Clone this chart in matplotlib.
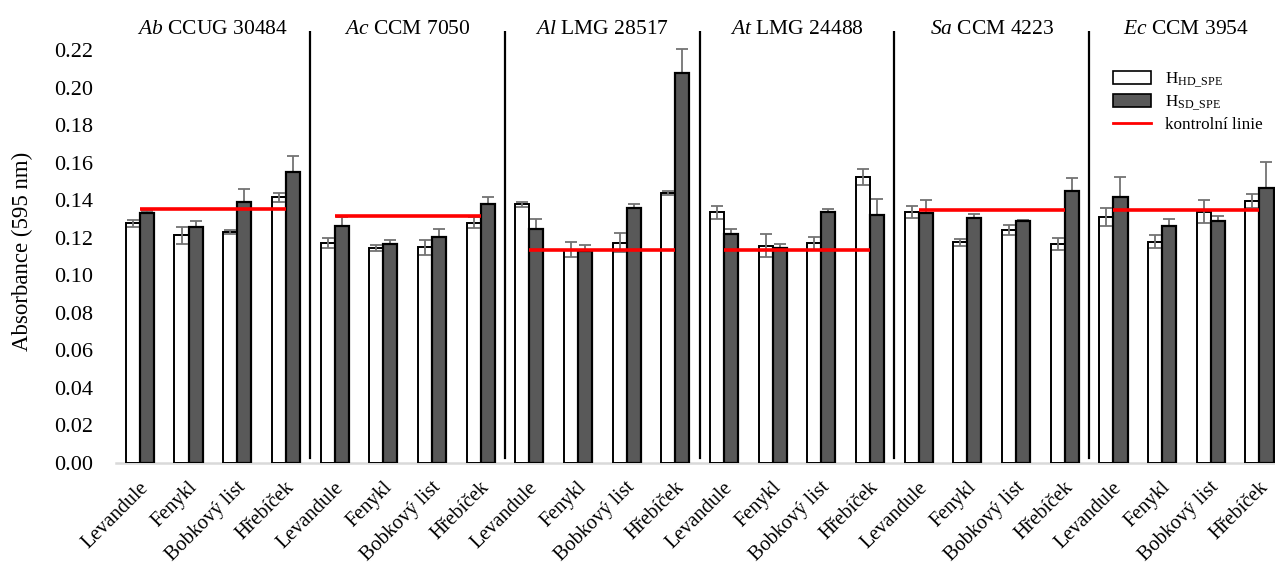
import numpy as np
import matplotlib
matplotlib.use('Agg')
import matplotlib.pyplot as plt
import matplotlib.transforms as mtransforms
from matplotlib.patches import Patch
from matplotlib.lines import Line2D

plt.rcParams['font.family'] = ['Liberation Serif', 'DejaVu Serif']
plt.rcParams['mathtext.fontset'] = 'custom'
plt.rcParams['mathtext.rm'] = 'Liberation Serif'
plt.rcParams['mathtext.it'] = 'Liberation Serif:italic'

# spices tested against each strain
spices = ['Levandule', 'Fenykl', 'Bobkový list', 'Hřebíček']
strains = [r'$\it{Ab}$ CCUG 30484', r'$\it{Ac}$ CCM 7050', r'$\it{Al}$ LMG 28517',
           r'$\it{At}$ LMG 24488', r'$\it{Sa}$ CCM 4223', r'$\it{Ec}$ CCM 3954']

# H_HD_SPE absorbance and standard deviation (one row per strain)
hd = [[0.1277, 0.1213, 0.1232, 0.1416],
      [0.1174, 0.1144, 0.1149, 0.1280],
      [0.1378, 0.1135, 0.1174, 0.1440],
      [0.1336, 0.1158, 0.1170, 0.1525],
      [0.1336, 0.1176, 0.1241, 0.1168],
      [0.1309, 0.1179, 0.1339, 0.1397]]
hd_err = [[0.0020, 0.0046, 0.0010, 0.0025],
          [0.0027, 0.0016, 0.0039, 0.0030],
          [0.0012, 0.0040, 0.0050, 0.0010],
          [0.0034, 0.0060, 0.0034, 0.0043],
          [0.0032, 0.0020, 0.0027, 0.0032],
          [0.0048, 0.0036, 0.0062, 0.0036]]

# H_SD_SPE absorbance and standard deviation
sd = [[0.1330, 0.1259, 0.1392, 0.1552],
      [0.1263, 0.1167, 0.1202, 0.1380],
      [0.1245, 0.1130, 0.1360, 0.2076],
      [0.1222, 0.1144, 0.1339, 0.1321],
      [0.1330, 0.1305, 0.1288, 0.1448],
      [0.1419, 0.1263, 0.1291, 0.1467]]
sd_err = [[0.0010, 0.0030, 0.0066, 0.0085],
          [0.0046, 0.0020, 0.0043, 0.0039],
          [0.0053, 0.0030, 0.0020, 0.0130],
          [0.0027, 0.0021, 0.0016, 0.0083],
          [0.0071, 0.0020, 0.0005, 0.0073],
          [0.0107, 0.0036, 0.0025, 0.0139]]

# untreated control per strain
control = [0.1355, 0.1316, 0.1135, 0.1135, 0.1348, 0.1348]

W, H = 1275, 565
fig = plt.figure(figsize=(W / 100, H / 100), dpi=100)
left, bottom, top = 115.6, 463, 31.3
ax = fig.add_axes([left / W, (H - bottom) / H, (W - left) / W, (bottom - top) / H])

n_sp = len(spices)
bw = 0.29
err_kw = dict(ecolor='#737373', elinewidth=1.3, capsize=4.5, capthick=1.3)

for i in range(len(strains)):
    x = np.arange(n_sp) + i * n_sp
    ax.bar(x - bw / 2, hd[i], bw, color='white', edgecolor='black', linewidth=1.4, zorder=2)
    ax.errorbar(x - bw / 2, hd[i], yerr=hd_err[i], fmt='none', zorder=3, **err_kw)
    ax.errorbar(x + bw / 2, sd[i], yerr=sd_err[i], fmt='none', zorder=1, **err_kw)
    ax.bar(x + bw / 2, sd[i], bw, color='#595959', edgecolor='black', linewidth=1.6, zorder=2)
    ax.plot([x[0], x[-1]], [control[i]] * 2, color='#ff0000', lw=2.6, zorder=4,
            solid_capstyle='butt')
    ax.text(x.mean(), 1.005, strains[i], transform=ax.get_xaxis_transform(),
            ha='center', va='center', fontsize=15.5)
    if i > 0:
        ax.axvline(i * n_sp - 0.5, ymin=0.012, ymax=1, color='black', lw=1.6, zorder=5)

ax.axhline(0, color='#d9d9d9', lw=1.8, zorder=0, clip_on=False)

ax.set_xlim(-0.5, 23.32)
ax.set_ylim(0, 0.23)
ax.set_yticks(np.arange(0, 0.221, 0.02))
ax.set_yticklabels([f'{v:.2f}' for v in np.arange(0, 0.221, 0.02)], fontsize=16)
ax.tick_params(axis='y', length=0, pad=16)

ax.set_xticks(np.arange(n_sp * len(strains)))
ax.set_xticklabels(spices * len(strains), rotation=45, ha='right',
                   rotation_mode='anchor', fontsize=14.6)
ax.tick_params(axis='x', length=0, pad=11)
shift = mtransforms.ScaledTranslation(-1 / 100, 0, fig.dpi_scale_trans)
for lab in ax.get_xticklabels():
    lab.set_transform(lab.get_transform() + shift)

ax.set_ylabel('Absorbance (595 nm)', fontsize=16.5)
ax.yaxis.set_label_coords(-0.071, 0.49)

for s in ax.spines.values():
    s.set_visible(False)

handles = [Patch(facecolor='white', edgecolor='black', linewidth=1.2),
           Patch(facecolor='#595959', edgecolor='black', linewidth=1.2),
           Line2D([], [], color='#ff0000', lw=2)]
labels = [r'H$_{\rm HD\_SPE}$', r'H$_{\rm SD\_SPE}$', 'kontrolní linie']
fig.legend(handles, labels, loc='upper left', bbox_to_anchor=(1098 / W, 1 - 55 / H),
           frameon=False, fontsize=12.3, handlelength=2.2, handleheight=0.8,
           handletextpad=0.8, labelspacing=0.2)

fig.savefig('out.png', dpi=100)
